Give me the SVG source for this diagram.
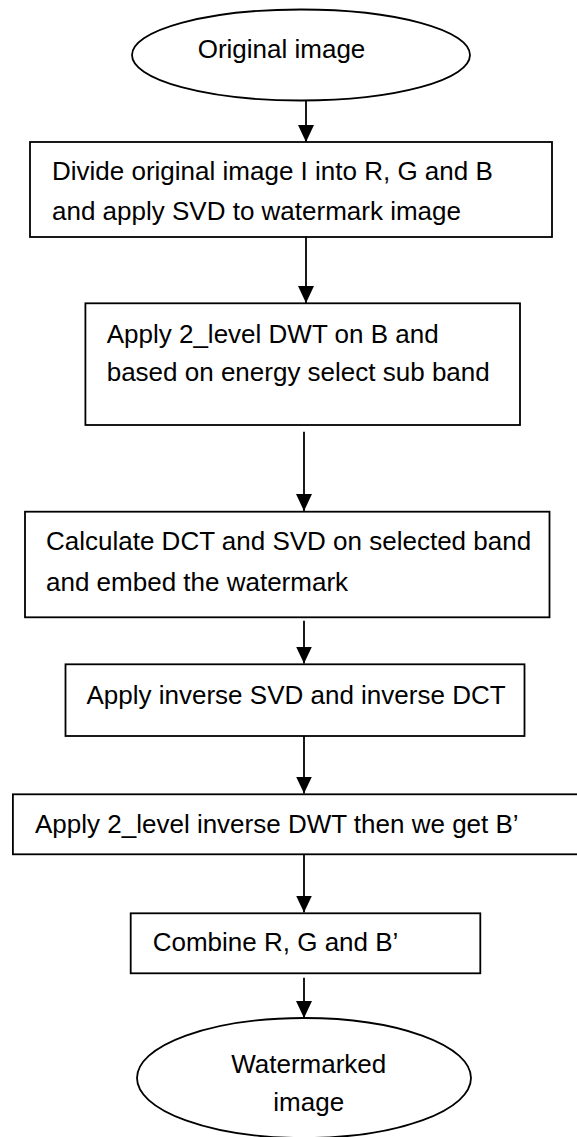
<svg xmlns="http://www.w3.org/2000/svg" width="577" height="1137" viewBox="0 0 577 1137">
<style>
.shape{fill:#ffffff;stroke:#000000;stroke-width:1.8}
.lbl{font-family:"Liberation Sans",Arial,sans-serif;font-size:26px;fill:#000000}
.conn{stroke:#000000;stroke-width:1.8;fill:none}
</style>
<defs>
<marker id="arr" viewBox="0 0 17 16" refX="17" refY="8" markerWidth="17" markerHeight="16" markerUnits="userSpaceOnUse" orient="auto">
<path d="M0,0 L17,8 L0,16 z" fill="#000000"/>
</marker>
</defs>
<rect width="577" height="1137" fill="#ffffff"/>
<g id="start">
<ellipse class="shape" cx="301" cy="55" rx="169" ry="45.5"/>
<text class="lbl" x="281.5" y="58.3" text-anchor="middle">Original image</text>
</g>
<g id="step1">
<rect class="shape" x="30" y="142" width="522" height="95"/>
<text class="lbl" x="52" y="180">Divide original image I into R, G and B</text>
<text class="lbl" x="52" y="219.5">and apply SVD to watermark image</text>
</g>
<g id="step2">
<rect class="shape" x="85.4" y="303.3" width="434.6" height="121.7"/>
<text class="lbl" x="106.7" y="342.7">Apply 2_level DWT on B and</text>
<text class="lbl" x="106.7" y="380.5">based on energy select sub band</text>
</g>
<g id="step3">
<rect class="shape" x="25" y="511.7" width="524.5" height="105.6"/>
<text class="lbl" x="46" y="550">Calculate DCT and SVD on selected band</text>
<text class="lbl" x="46" y="590.7">and embed the watermark</text>
</g>
<g id="step4">
<rect class="shape" x="65.5" y="664.3" width="459" height="71.7"/>
<text class="lbl" x="86.5" y="704">Apply inverse SVD and inverse DCT</text>
</g>
<g id="step5">
<rect class="shape" x="12.9" y="794.3" width="575" height="60"/>
<text class="lbl" x="35" y="832.7">Apply 2_level inverse DWT then we get B’</text>
</g>
<g id="step6">
<rect class="shape" x="130.7" y="913.3" width="349.6" height="60"/>
<text class="lbl" x="152.7" y="950.7">Combine R, G and B’</text>
</g>
<g id="end">
<ellipse class="shape" cx="304" cy="1078" rx="167" ry="60"/>
<text class="lbl" x="308.7" y="1072.7" text-anchor="middle">Watermarked</text>
<text class="lbl" x="308.7" y="1111" text-anchor="middle">image</text>
</g>
<g id="connectors">
<line class="conn" x1="306" y1="100.5" x2="306" y2="142" marker-end="url(#arr)"/>
<line class="conn" x1="306" y1="237" x2="306" y2="303" marker-end="url(#arr)"/>
<line class="conn" x1="304" y1="431.7" x2="304" y2="511" marker-end="url(#arr)"/>
<line class="conn" x1="304" y1="620.7" x2="304" y2="663.5" marker-end="url(#arr)"/>
<line class="conn" x1="304" y1="736" x2="304" y2="793.5" marker-end="url(#arr)"/>
<line class="conn" x1="304" y1="854.3" x2="304" y2="912.5" marker-end="url(#arr)"/>
<line class="conn" x1="304" y1="977.7" x2="304" y2="1018" marker-end="url(#arr)"/>
</g>
</svg>
